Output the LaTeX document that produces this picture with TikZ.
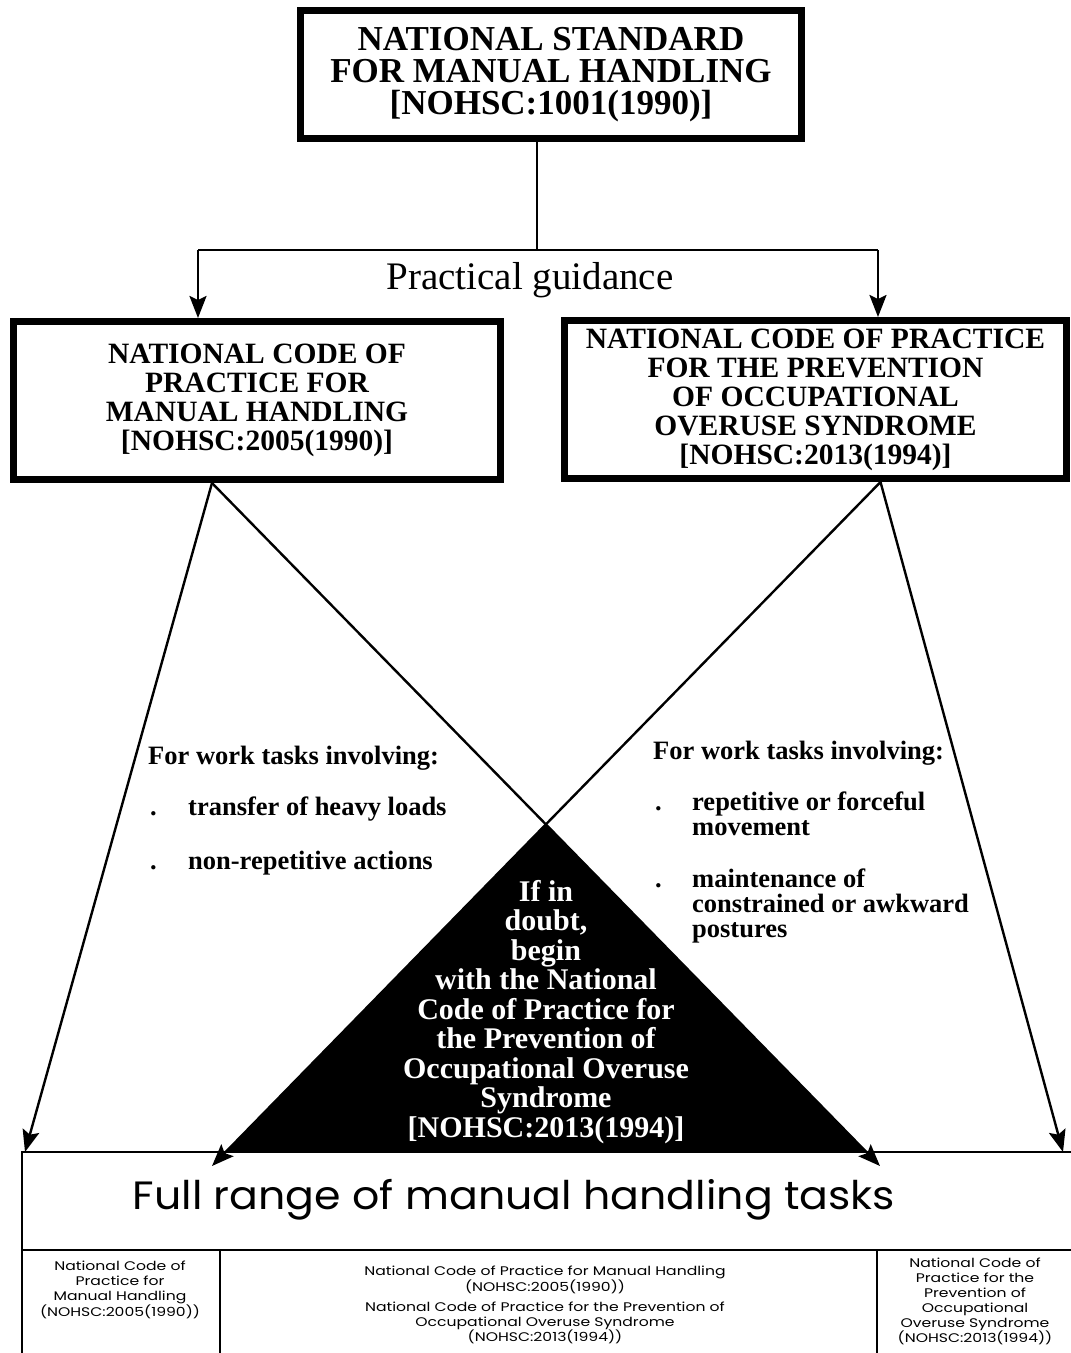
\documentclass[tikz,border=0pt]{standalone}
\usepackage{fontspec}
\setmainfont{Liberation Serif}
\newfontfamily\gothic{Poppins}[FakeStretch=1.08]
\newfontfamily\gothicwide{Poppins}[FakeStretch=1.25]
\usetikzlibrary{arrows.meta, calc}

\begin{document}
\begin{tikzpicture}[x=1pt, y=-1pt,
    thickbox/.style={draw, line width=7pt, align=center, inner sep=0pt,
      font=\fontsize{29.5}{29}\selectfont\bfseries},
    link/.style={line width=2.4pt},
    arr/.style={link, -{Stealth[length=22pt, width=17pt, inset=4pt]}},
    frame/.style={line width=2.6pt},
    tasks/.style={anchor=base west, inner sep=0pt,
      font=\fontsize{26.5}{25}\selectfont\bfseries},
    small/.style={align=center, inner sep=0pt,
      font=\gothicwide\fontsize{12.5}{15}\selectfont}]
  \useasboundingbox (0,0) rectangle (1071,1353);

  % standard
  \node[thickbox, minimum width=501pt, minimum height=128pt,
    font=\fontsize{35}{32}\selectfont\bfseries] (std) at (551,74.5)
    {NATIONAL STANDARD\\FOR MANUAL HANDLING\\{}[NOHSC:1001(1990)]};

  % the two codes
  \node[thickbox, minimum width=487pt, minimum height=158pt] (mh) at (257,400.5)
    {NATIONAL CODE OF\\PRACTICE FOR\\MANUAL HANDLING\\{}[NOHSC:2005(1990)]};
  \node[thickbox, minimum width=502pt, minimum height=158pt] (oos) at (815.5,399.5)
    {NATIONAL CODE OF PRACTICE\\FOR THE PREVENTION\\OF OCCUPATIONAL\\OVERUSE SYNDROME\\{}[NOHSC:2013(1994)]};

  % practical guidance
  \node[font=\fontsize{39}{39}\selectfont] (guide) at (530,280) {Practical guidance};
  \coordinate (stdfoot) at ([xshift=-14pt]std.south);
  \coordinate (gl) at (198,250);
  \coordinate (gr) at (878,250);
  \draw[link] (stdfoot) -- (stdfoot |- gl);
  \draw[link] (gl) -- (gr);
  \draw[arr] (gl) -- (gl |- mh.north);
  \draw[arr] (gr) -- (gr |- oos.north);

  % crossing lines
  \coordinate (ls) at ([xshift=-45pt]mh.south);
  \coordinate (rs) at ([xshift=65pt]oos.south);
  \coordinate (lo) at (25,1152);
  \coordinate (ro) at (1063,1152);
  \coordinate (li) at (212,1166);
  \coordinate (ri) at (880,1166);
  \coordinate (apex) at (intersection of ls--ri and rs--li);
  \fill (apex) -- ($(rs)!0.9796!(li)$) -- ($(ls)!0.9796!(ri)$) -- cycle;
  \draw[arr] (ls) -- (lo);
  \draw[arr] (ls) -- (ri);
  \draw[arr] (rs) -- (li);
  \draw[arr] (rs) -- (ro);

  % triangle text
  \node[text=white, align=center, inner sep=0pt,
    font=\fontsize{30}{29.5}\selectfont\bfseries] (doubt) at (546,1012)
    {If in\\doubt,\\begin\\with the National\\Code of Practice for\\the Prevention of\\Occupational Overuse\\Syndrome\\{}[NOHSC:2013(1994)]};

  % tasks left
  \node[tasks] (lhead) at (148,764) {For work tasks involving:};
  \node[tasks] (lb1) at (150,815) {.};
  \node[tasks] (lt1) at (188,815) {transfer of heavy loads};
  \node[tasks] (lb2) at (150,869) {.};
  \node[tasks] (lt2) at (188,869) {non-repetitive actions};

  % tasks right
  \node[tasks] (rhead) at (653,759) {For work tasks involving:};
  \node[tasks] (rb1) at (655,810) {.};
  \node[tasks] (rt1) at (692,810) {repetitive or forceful};
  \node[tasks] (rt1b) at (692,835) {movement};
  \node[tasks] (rb2) at (655,887) {.};
  \node[tasks] (rt2) at (692,887) {maintenance of};
  \node[tasks] (rt2b) at (692,912) {constrained or awkward};
  \node[tasks] (rt2c) at (692,937) {postures};

  % full range
  \draw[frame] (22,1353) -- (22,1152) -- (1075,1152);
  \draw[frame] (22,1250) -- (1075,1250);
  \draw[frame] (220,1250) -- (220,1353);
  \draw[frame] (877,1250) -- (877,1353);
  \node[font=\gothic\fontsize{39.5}{40}\selectfont] (range) at (514,1200)
    {Full range of manual handling tasks};

  % which code
  \node[small] (cl) at (120,1290)
    {National Code of\\Practice for\\Manual Handling\\(NOHSC:2005(1990))};
  \node[small] (cm) at (545,1305)
    {National Code of Practice for Manual Handling\\(NOHSC:2005(1990))\\[5pt]National Code of Practice for the Prevention of\\Occupational Overuse Syndrome\\(NOHSC:2013(1994))};
  \node[small] (cr) at (975,1301)
    {National Code of\\Practice for the\\Prevention of\\Occupational\\Overuse Syndrome\\(NOHSC:2013(1994))};
\end{tikzpicture}
\end{document}
